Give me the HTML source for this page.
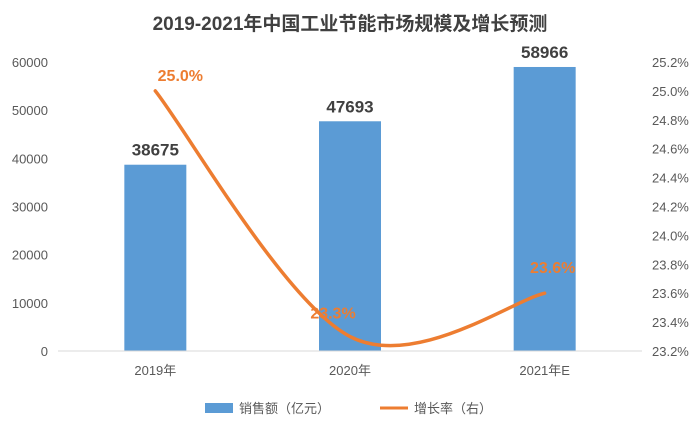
<!DOCTYPE html>
<html><head><meta charset="utf-8"><style>
body{margin:0;background:#fff;font-family:"Liberation Sans","Noto Sans CJK SC",sans-serif;}
svg text{font-family:"Liberation Sans","Noto Sans CJK SC",sans-serif;}
</style></head><body>
<svg id="chart" width="700" height="434" xmlns="http://www.w3.org/2000/svg">
<text x="350" y="30" text-anchor="middle" font-size="19" font-weight="bold" fill="#404040">2019-2021年中国工业节能市场规模及增长预测</text>
<g id="yl"></g><g id="yr"></g><g id="bars"></g><g id="line"></g><g id="xl"></g>
<g>
<rect x="205" y="403" width="28" height="10" fill="#5B9BD5"/>
<text x="239" y="413" font-size="13" fill="#595959">销售额（亿元）</text>
<line x1="380" y1="408" x2="408" y2="408" stroke="#ED7D31" stroke-width="3"/>
<text x="414" y="413" font-size="13" fill="#595959">增长率（右）</text>
</g>
</svg>
<script>
const categories=["2019年","2020年","2021年E"];
const sales=[38675,47693,58966];
const growth=[25.0,23.3,23.6];
const leftTicks=[0,10000,20000,30000,40000,50000,60000];
const rightTicks=[23.2,23.4,23.6,23.8,24.0,24.2,24.4,24.6,24.8,25.0,25.2];
const NS="http://www.w3.org/2000/svg";
const plotTop=62,plotBot=351,x0=58,x1=642;
const yL=v=>plotBot-(v-0)/60000*(plotBot-plotTop);
const yR=v=>plotBot-(v-23.2)/2.0*(plotBot-plotTop);
const band=(x1-x0)/categories.length;
const xC=i=>x0+band*(i+0.5);
function mk(tag,attrs,parent,text){const e=document.createElementNS(NS,tag);for(const k in attrs)e.setAttribute(k,attrs[k]);if(text!==undefined)e.textContent=text;document.getElementById(parent).appendChild(e);return e;}
leftTicks.forEach(t=>{const e=mk("text",{x:48,y:yL(t)+5,"text-anchor":"end","font-size":13,fill:"#595959"},"yl",t);

});
rightTicks.forEach(t=>{const e=mk("text",{x:652,y:yR(t)+5,"font-size":13,fill:"#595959"},"yr",t.toFixed(1)+"%");

});
const ax=mk("line",{x1:x0,y1:plotBot,x2:x1,y2:plotBot,stroke:"#D9D9D9"},"xl");


const bw=62;
categories.forEach((c,i)=>{
const r=mk("rect",{x:xC(i)-bw/2,y:yL(sales[i]),width:bw,height:plotBot-yL(sales[i]),fill:"#5B9BD5"},"bars");


const l=mk("text",{x:xC(i),y:yL(sales[i])-9,"text-anchor":"middle","font-size":17,"font-weight":"bold",fill:"#404040"},"bars",sales[i]);


const xl=mk("text",{x:xC(i),y:plotBot+24,"text-anchor":"middle","font-size":13,fill:"#595959"},"xl",c);


});
const pts=growth.map((g,i)=>[xC(i),yR(g)]);
let d="M"+pts[0][0]+","+pts[0][1];
for(let i=0;i<pts.length-1;i++){
const p0=pts[Math.max(i-1,0)],p1=pts[i],p2=pts[i+1],p3=pts[Math.min(i+2,pts.length-1)];
const c1=[p1[0]+(p2[0]-p0[0])/6,p1[1]+(p2[1]-p0[1])/6];
const c2=[p2[0]-(p3[0]-p1[0])/6,p2[1]-(p3[1]-p1[1])/6];
d+=` C${c1[0]},${c1[1]} ${c2[0]},${c2[1]} ${p2[0]},${p2[1]}`;}
const path=mk("path",{d:d,fill:"none",stroke:"#ED7D31","stroke-width":3.5,"stroke-linecap":"round"},"line");


const off=[[25,-10],[-17,-18],[8,-20]];
growth.forEach((g,i)=>{
const t=mk("text",{x:pts[i][0]+off[i][0],y:pts[i][1]+off[i][1],"text-anchor":"middle","font-size":16,"font-weight":"bold",fill:"#ED7D31"},"line",g.toFixed(1)+"%");


});
</script>
</body></html>
